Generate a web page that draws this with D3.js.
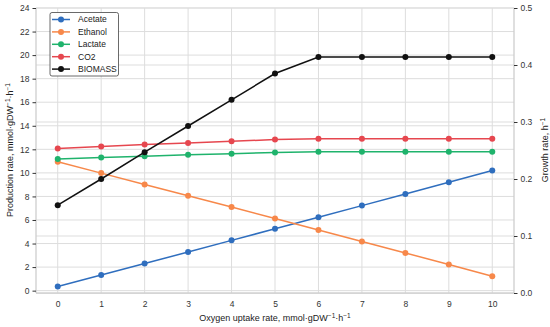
<!DOCTYPE html>
<html><head><meta charset="utf-8">
<script src="https://cdn.jsdelivr.net/npm/d3@7"></script>
<style>
body{margin:0;background:#fff;}
text{font-family:"Liberation Sans",Arial,sans-serif;}
</style></head>
<body><svg id="c" width="550" height="327"></svg>
<script>
const oxygen = [0,1,2,3,4,5,6,7,8,9,10];
const acetate = [0.35,1.32,2.3,3.28,4.27,5.25,6.23,7.22,8.2,9.2,10.2];
const ethanol = [10.95,9.98,9.02,8.05,7.1,6.13,5.15,4.18,3.2,2.22,1.22];
const lactate = [11.17,11.3,11.42,11.53,11.63,11.74,11.8,11.8,11.8,11.8,11.8];
const co2 = [12.08,12.24,12.4,12.54,12.68,12.83,12.9,12.9,12.9,12.9,12.9];
const biomass = [0.154,0.2,0.247,0.293,0.339,0.385,0.414,0.414,0.414,0.414,0.414];
const leftTicks = [0,2,4,6,8,10,12,14,16,18,20,22,24];
const rightTicks = [0.0,0.1,0.2,0.3,0.4,0.5];
const seriesNames = ["Acetate","Ethanol","Lactate","CO2","BIOMASS"];
const colors = ["#2f6ebe","#f7884a","#1fb36c","#e6474f","#111111"];

const svg = d3.select("#c");
const L=36,R=514,T=8,B=293;
const x = d3.scaleLinear().domain([-0.5,10.5]).range([L,R]);
const yL = d3.scaleLinear().domain([-0.2,24]).range([B,T]);
const yR = d3.scaleLinear().domain([0,0.5]).range([B,T]);

// grids
const g = svg.append("g");
g.selectAll(".gx").data(oxygen).join("line")
 .attr("x1",d=>x(d)).attr("x2",d=>x(d)).attr("y1",T).attr("y2",B)
 .attr("stroke","#dddddd").attr("stroke-width",1);
g.selectAll(".gl").data(leftTicks).join("line")
 .attr("x1",L).attr("x2",R).attr("y1",d=>yL(d)).attr("y2",d=>yL(d))
 .attr("stroke","#dddddd").attr("stroke-width",1);
g.selectAll(".gr").data(rightTicks).join("line")
 .attr("x1",L).attr("x2",R).attr("y1",d=>yR(d)).attr("y2",d=>yR(d))
 .attr("stroke","#dddddd").attr("stroke-width",1);

// spines
svg.append("line").attr("x1",L).attr("x2",L).attr("y1",T).attr("y2",B).attr("stroke","#cccccc").attr("stroke-width",1.25);
svg.append("line").attr("x1",R).attr("x2",R).attr("y1",T).attr("y2",B).attr("stroke","#cccccc").attr("stroke-width",1.25);
svg.append("line").attr("x1",L).attr("x2",R).attr("y1",B).attr("y2",B).attr("stroke","#cccccc").attr("stroke-width",1.25);

// axes
const ax = d3.axisBottom(x).tickValues(oxygen).tickSize(0).tickPadding(8);
const gxA = svg.append("g").attr("transform",`translate(0,${B})`).call(ax);
const ayl = d3.axisLeft(yL).tickValues(leftTicks).tickSize(3.5).tickPadding(3);
const gyl = svg.append("g").attr("transform",`translate(${L},0)`).call(ayl);
const ayr = d3.axisRight(yR).tickValues(rightTicks).tickFormat(d3.format(".1f")).tickSize(3.5).tickPadding(3);
const gyr = svg.append("g").attr("transform",`translate(${R},0)`).call(ayr);
[gxA,gyl,gyr].forEach(a=>{
  a.select(".domain").remove();
  a.selectAll("text").attr("font-size",8.5).attr("fill","#333").attr("font-family","Liberation Sans,Arial,sans-serif");
  a.selectAll("line").attr("stroke","#333").attr("stroke-width",1);
});

// lines
const leftSeries=[acetate,ethanol,lactate,co2];
leftSeries.forEach((s,i)=>{
  const line=d3.line().x((d,j)=>x(oxygen[j])).y(d=>yL(d));
  svg.append("path").datum(s).attr("d",line).attr("fill","none").attr("stroke",colors[i]).attr("stroke-width",1.5);
  svg.append("g").selectAll("circle").data(s).join("circle")
   .attr("cx",(d,j)=>x(oxygen[j])).attr("cy",d=>yL(d)).attr("r",3).attr("fill",colors[i]);
});
{
  const line=d3.line().x((d,j)=>x(oxygen[j])).y(d=>yR(d));
  svg.append("path").datum(biomass).attr("d",line).attr("fill","none").attr("stroke",colors[4]).attr("stroke-width",1.5);
  svg.append("g").selectAll("circle").data(biomass).join("circle")
   .attr("cx",(d,j)=>x(oxygen[j])).attr("cy",d=>yR(d)).attr("r",3).attr("fill",colors[4]);
}

// legend
const lg = svg.append("g");
lg.append("rect").attr("x",50).attr("y",12.5).attr("width",68.5).attr("height",63.5).attr("rx",2)
 .attr("fill","#fff").attr("stroke","#444").attr("stroke-width",0.8);
seriesNames.forEach((n,i)=>{
  const yy = 19.5 + i*12.4;
  lg.append("line").attr("x1",52).attr("x2",70).attr("y1",yy).attr("y2",yy).attr("stroke",colors[i]).attr("stroke-width",1.5);
  lg.append("circle").attr("cx",61).attr("cy",yy).attr("r",3).attr("fill",colors[i]);
  lg.append("text").attr("x",78).attr("y",yy).attr("dy","0.35em").attr("font-size",8.5).attr("fill","#222").text(n);
});

// titles
function sup(t, parts){
  let raised=false;
  parts.forEach(p=>{
    if(p.s){ t.append("tspan").attr("dy",-3.5).attr("font-size",6.5).text(p.s); raised=true; }
    else { const ts=t.append("tspan").text(p.t); if(raised){ ts.attr("dy",3.5); raised=false; } }
  });
}
const xt = svg.append("text").attr("x",275).attr("y",321).attr("text-anchor","middle").attr("font-size",9).attr("fill","#222");
sup(xt,[{t:"Oxygen uptake rate, mmol·gDW"},{s:"−1"},{t:"·h"},{s:"−1"}]);
const ylt = svg.append("text").attr("transform",`translate(13,150) rotate(-90)`).attr("text-anchor","middle").attr("font-size",9).attr("fill","#222");
sup(ylt,[{t:"Production rate, mmol·gDW"},{s:"−1"},{t:"·h"},{s:"−1"}]);
const yrt = svg.append("text").attr("transform",`translate(548,150) rotate(-90)`).attr("text-anchor","middle").attr("font-size",9).attr("fill","#222");
sup(yrt,[{t:"Growth rate, h"},{s:"−1"}]);
</script></body></html>
